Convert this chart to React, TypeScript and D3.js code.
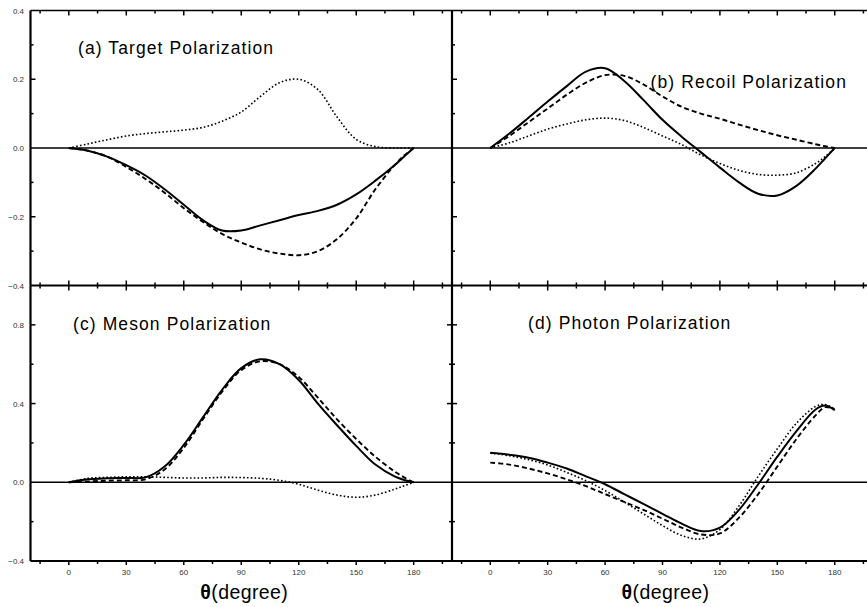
import React from "react";
import * as d3 from "d3";

const angles = [0, 10, 20, 30, 40, 50, 60, 70, 80, 90, 100, 110, 120, 130, 140, 150, 160, 170, 175, 180];

const aSolid = [0, -0.008, -0.025, -0.05, -0.08, -0.12, -0.165, -0.21, -0.24, -0.24, -0.225, -0.21, -0.195, -0.183, -0.165, -0.135, -0.095, -0.05, -0.025, 0];
const aDashed = [0, -0.008, -0.025, -0.055, -0.09, -0.13, -0.175, -0.215, -0.25, -0.275, -0.295, -0.307, -0.312, -0.3, -0.265, -0.205, -0.12, -0.05, -0.022, 0];
const aDotted = [0, 0.012, 0.024, 0.035, 0.042, 0.047, 0.052, 0.06, 0.078, 0.105, 0.15, 0.19, 0.2, 0.17, 0.09, 0.025, 0.004, 0, 0, 0];

const bSolid = [0, 0.042, 0.088, 0.135, 0.18, 0.222, 0.232, 0.195, 0.14, 0.082, 0.033, -0.012, -0.057, -0.1, -0.133, -0.138, -0.11, -0.06, -0.03, 0];
const bDashed = [0, 0.035, 0.075, 0.115, 0.155, 0.19, 0.212, 0.21, 0.185, 0.15, 0.12, 0.1, 0.085, 0.068, 0.052, 0.037, 0.024, 0.011, 0.005, 0];
const bDotted = [0, 0.015, 0.035, 0.055, 0.07, 0.082, 0.087, 0.08, 0.06, 0.035, 0.01, -0.02, -0.045, -0.065, -0.077, -0.079, -0.072, -0.045, -0.025, 0];

const cSolid = [0, 0.015, 0.02, 0.022, 0.025, 0.08, 0.19, 0.33, 0.47, 0.58, 0.625, 0.6, 0.52, 0.4, 0.29, 0.185, 0.09, 0.03, 0.012, 0];
const cDashed = [0, 0.004, 0.008, 0.01, 0.015, 0.065, 0.175, 0.32, 0.46, 0.57, 0.615, 0.6, 0.535, 0.43, 0.32, 0.22, 0.13, 0.055, 0.025, 0];
const cDotted = [0, 0.02, 0.025, 0.028, 0.028, 0.025, 0.022, 0.022, 0.025, 0.024, 0.02, 0.01, -0.01, -0.04, -0.065, -0.076, -0.065, -0.035, -0.018, 0];

const dSolid = [0.15, 0.14, 0.125, 0.1, 0.07, 0.03, -0.01, -0.06, -0.11, -0.16, -0.21, -0.248, -0.23, -0.14, -0.01, 0.13, 0.26, 0.37, 0.39, 0.366];
const dDashed = [0.1, 0.09, 0.07, 0.045, 0.015, -0.02, -0.06, -0.1, -0.14, -0.185, -0.23, -0.265, -0.26, -0.18, -0.06, 0.08, 0.22, 0.34, 0.382, 0.37];
const dDotted = [0.148, 0.135, 0.115, 0.088, 0.05, 0.008, -0.042, -0.1, -0.16, -0.22, -0.27, -0.288, -0.24, -0.12, 0.03, 0.17, 0.3, 0.385, 0.395, 0.372];

const xTickValues = [-15, 0, 15, 30, 45, 60, 75, 90, 105, 120, 135, 150, 165, 180, 195];
const xTickLabels = [0, 30, 60, 90, 120, 150, 180];
const yTopTicks = [-0.3, -0.2, -0.1, 0.1, 0.2, 0.3];
const yTopLabels = [-0.4, -0.2, 0.0, 0.2, 0.4];
const yBotTicks = [-0.2, 0.2, 0.4, 0.6, 0.8];
const yBotLabels = [-0.4, 0.0, 0.4, 0.8];
const panelTitles = ["(a) Target Polarization", "(b) Recoil Polarization", "(c) Meson Polarization", "(d) Photon Polarization"];
const axisTitle = "(degree)";

const W = 867, H = 607;
const L = 30.5, M = 452, R = 873;
const T = 10.5, MID = 285.5, B = 561;

const xL = d3.scaleLinear().domain([-20, 200]).range([L, M]);
const xR = d3.scaleLinear().domain([-20, 200]).range([M, R]);
const yT = d3.scaleLinear().domain([-0.4, 0.4]).range([MID, T]);
const yB = d3.scaleLinear().domain([-0.4, 1.0]).range([B, MID]);

const FONT = "'Liberation Sans', Arial, Helvetica, sans-serif";

function Curves({ x, y, s, da, dt }: any) {
  const mk = (vals: number[]) =>
    d3.line<number>().x((_, i) => x(angles[i])).y((v) => y(v)).curve(d3.curveCatmullRom.alpha(0.5))(vals) || "";
  return (
    <g fill="none" stroke="#000">
      <path d={mk(dt)} strokeWidth={1.6} strokeDasharray="1.6,2.2" />
      <path d={mk(da)} strokeWidth={1.9} strokeDasharray="5,3" />
      <path d={mk(s)} strokeWidth={2} />
    </g>
  );
}

export default function App() {
  const fmt = d3.format(".1f");
  const ticks: JSX.Element[] = [];
  let k = 0;
  const ln = (x1: number, y1: number, x2: number, y2: number, w = 1.5) =>
    ticks.push(<line key={k++} x1={x1} y1={y1} x2={x2} y2={y2} stroke="#000" strokeWidth={w} />);

  [xL, xR].forEach((x) => {
    xTickValues.forEach((t) => {
      const major = t % 30 === 0;
      const len = major ? 5 : 3;
      const px = x(t);
      ln(px, T, px, T + len);
      ln(px, MID - len, px, MID + len);
      ln(px, B, px, B + (major ? 4 : 3));
    });
  });
  yTopTicks.forEach((v) => {
    const major = Math.abs(Math.round(v * 10)) % 2 === 0;
    const len = major ? 5 : 3;
    ln(L, yT(v), L + len, yT(v));
    ln(M, yT(v), M + len, yT(v));
  });
  yBotTicks.forEach((v) => {
    const major = Math.abs(Math.round(v * 10)) % 4 === 0;
    const len = major ? 5 : 3;
    ln(L, yB(v), L + len, yB(v));
    ln(M - len, yB(v), M + len, yB(v));
  });

  return (
    <svg width={W} height={H} style={{ position: "absolute", left: 0, top: 0, background: "#fff" }} fontFamily={FONT}>
      <rect x={0} y={0} width={W} height={H} fill="#fff" />
      <line x1={L} x2={R} y1={yT(0)} y2={yT(0)} stroke="#000" strokeWidth={1.6} />
      <line x1={L} x2={R} y1={yB(0)} y2={yB(0)} stroke="#000" strokeWidth={1.6} />

      <Curves x={xL} y={yT} s={aSolid} da={aDashed} dt={aDotted} />
      <Curves x={xR} y={yT} s={bSolid} da={bDashed} dt={bDotted} />
      <Curves x={xL} y={yB} s={cSolid} da={cDashed} dt={cDotted} />
      <Curves x={xR} y={yB} s={dSolid} da={dDashed} dt={dDotted} />

      <line x1={L} x2={R} y1={T} y2={T} stroke="#000" strokeWidth={1.5} />
      <line x1={L} x2={R} y1={MID} y2={MID} stroke="#000" strokeWidth={2.2} />
      <line x1={L} x2={R} y1={B} y2={B} stroke="#000" strokeWidth={2.2} />
      <line x1={L} x2={L} y1={T} y2={B} stroke="#000" strokeWidth={2.2} />
      <line x1={M} x2={M} y1={T} y2={B} stroke="#000" strokeWidth={2.2} />
      {ticks}

      <g fontSize={8} fill="#333" textAnchor="end">
        {yTopLabels.map((v) => (
          <text key={"t" + v} x={24} y={yT(v) + 3}>{fmt(v)}</text>
        ))}
        {yBotLabels.map((v) => (
          <text key={"b" + v} x={24} y={yB(v) + 3}>{fmt(v)}</text>
        ))}
      </g>
      <g fontSize={8} fill="#333" textAnchor="middle">
        {[xL, xR].map((x, j) =>
          xTickLabels.map((t) => (
            <text key={j + "-" + t} x={x(t)} y={575}>{t}</text>
          ))
        )}
      </g>
      {[xL, xR].map((x, j) => (
        <text key={"ax" + j} x={x(90) + 3} y={599} fontSize={19.5} letterSpacing={0.4} textAnchor="middle" fill="#000">
          <tspan fontWeight="bold">θ</tspan>{axisTitle}
        </text>
      ))}
      <g fontSize={17.5} fill="#000" letterSpacing={1.1}>
        <text x={78} y={54}>{panelTitles[0]}</text>
        <text x={847} y={88} textAnchor="end">{panelTitles[1]}</text>
        <text x={73} y={330}>{panelTitles[2]}</text>
        <text x={528} y={329}>{panelTitles[3]}</text>
      </g>
    </svg>
  );
}
